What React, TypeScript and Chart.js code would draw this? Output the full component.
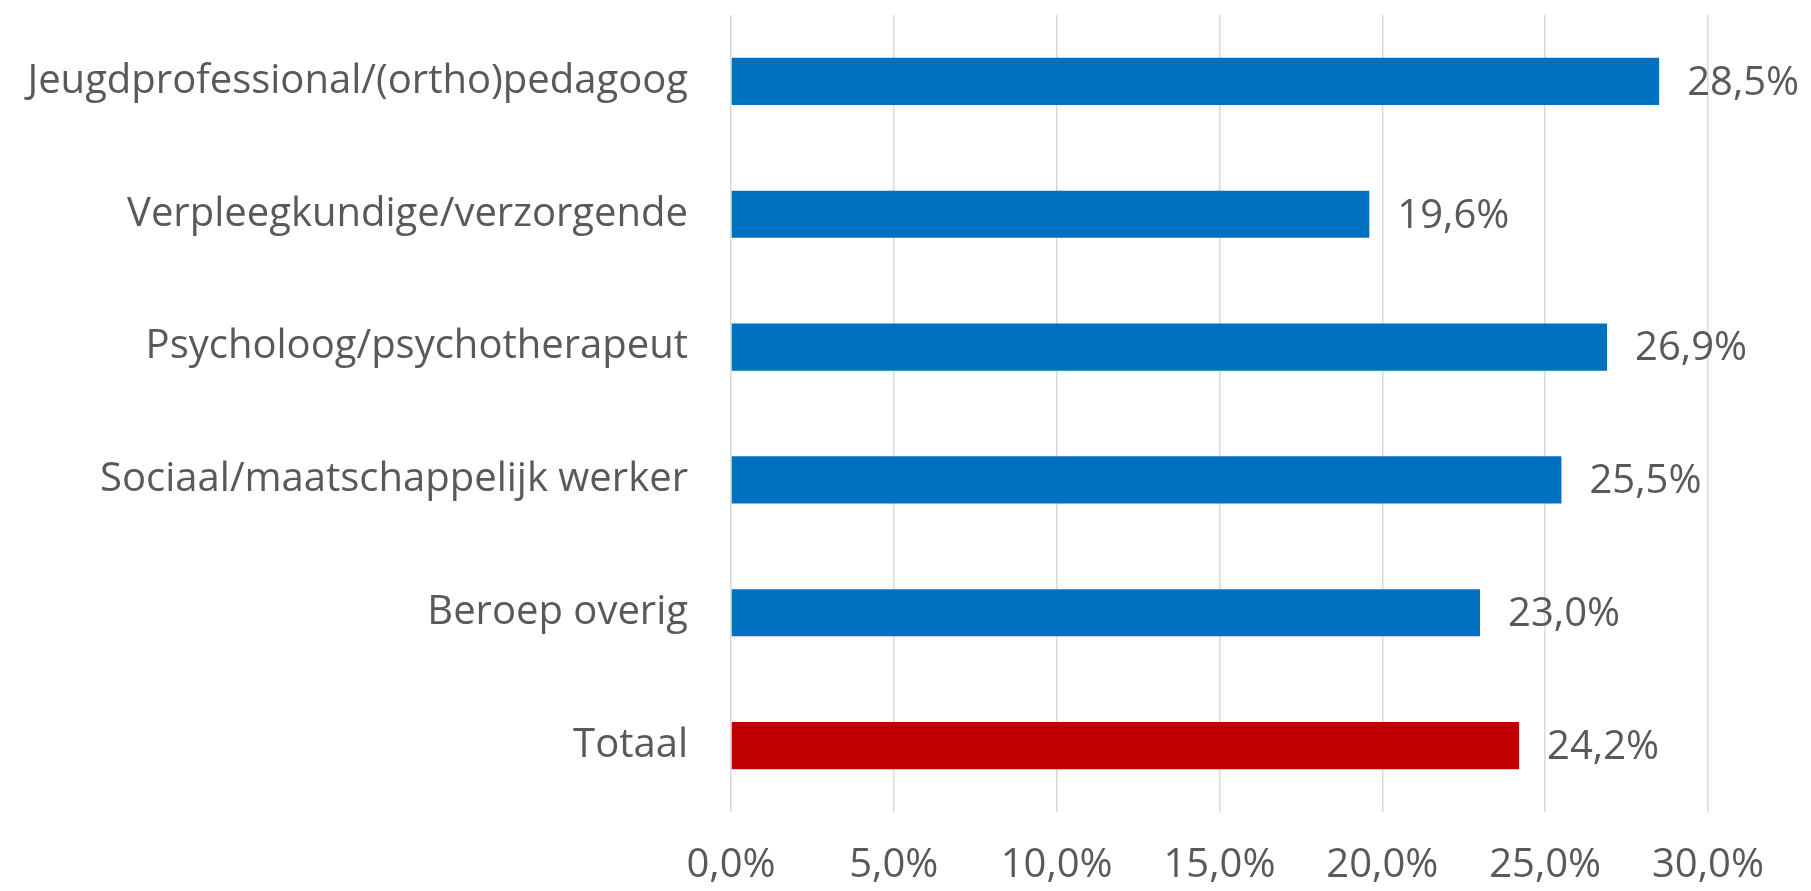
import React, { useEffect, useRef } from "react";
import { Chart, registerables } from "chart.js";

Chart.register(...registerables);

const categories = [
  "Jeugdprofessional/(ortho)pedagoog",
  "Verpleegkundige/verzorgende",
  "Psycholoog/psychotherapeut",
  "Sociaal/maatschappelijk werker",
  "Beroep overig",
  "Totaal",
];
const values = [28.5, 19.6, 26.9, 25.5, 23.0, 24.2];
const barColors = ["#0070C0", "#0070C0", "#0070C0", "#0070C0", "#0070C0", "#C00000"];
const xTicksMin = 0;
const xTicksMax = 30;
const xTickStep = 5;

const FONT = "'Open Sans', 'Noto Sans', sans-serif";
const TEXT_COLOR = "#595959";

const fmt = (v: number) => v.toFixed(1).replace(".", ",") + "%";

const dataLabelPlugin = {
  id: "dataLabels",
  afterDatasetsDraw(chart: any) {
    const ctx = chart.ctx;
    const meta = chart.getDatasetMeta(0);
    ctx.save();
    ctx.font = `40px ${FONT}`;
    ctx.fillStyle = TEXT_COLOR;
    ctx.textAlign = "left";
    ctx.textBaseline = "middle";
    meta.data.forEach((el: any, i: number) => {
      ctx.fillText(fmt(values[i]), el.x + 28, el.y + 2);
    });
    ctx.restore();
  },
};

export default function App() {
  const canvasRef = useRef<HTMLCanvasElement | null>(null);

  useEffect(() => {
    if (!canvasRef.current) return;
    const chart = new Chart(canvasRef.current, {
      type: "bar",
      data: {
        labels: categories,
        datasets: [
          {
            data: values,
            backgroundColor: barColors,
            borderWidth: 0,
            categoryPercentage: 1,
            barPercentage: 0.355,
          },
        ],
      },
      options: {
        indexAxis: "y",
        animation: false,
        responsive: true,
        maintainAspectRatio: false,
        layout: { padding: { top: 15, right: 103, left: 0, bottom: 0 } },
        plugins: {
          legend: { display: false },
          tooltip: { enabled: false },
        },
        scales: {
          x: {
            min: xTicksMin,
            max: xTicksMax,
            ticks: {
              stepSize: xTickStep,
              callback: (v: any) => fmt(Number(v)),
              color: TEXT_COLOR,
              font: { family: FONT, size: 40 },
              padding: 30,
              maxRotation: 0,
            },
            grid: { color: "#d9d9d9", lineWidth: 1.5, drawTicks: false },
            border: { display: false },
            afterFit: (scale: any) => {
              scale.height = 79;
              scale.paddingLeft = 0;
              scale.paddingRight = 0;
            },
          },
          y: {
            ticks: {
              color: TEXT_COLOR,
              font: { family: FONT, size: 40 },
              padding: 43,
            },
            grid: { display: false, drawTicks: false },
            border: { display: false },
            afterFit: (scale: any) => {
              scale.width = 731;
              scale.paddingTop = 0;
              scale.paddingBottom = 0;
            },
          },
        },
      },
      plugins: [dataLabelPlugin],
    });
    return () => chart.destroy();
  }, []);

  return (
    <div style={{ position: "fixed", left: 0, top: 0, width: 1811, height: 891, background: "#fff" }}>
      <canvas ref={canvasRef} />
    </div>
  );
}
